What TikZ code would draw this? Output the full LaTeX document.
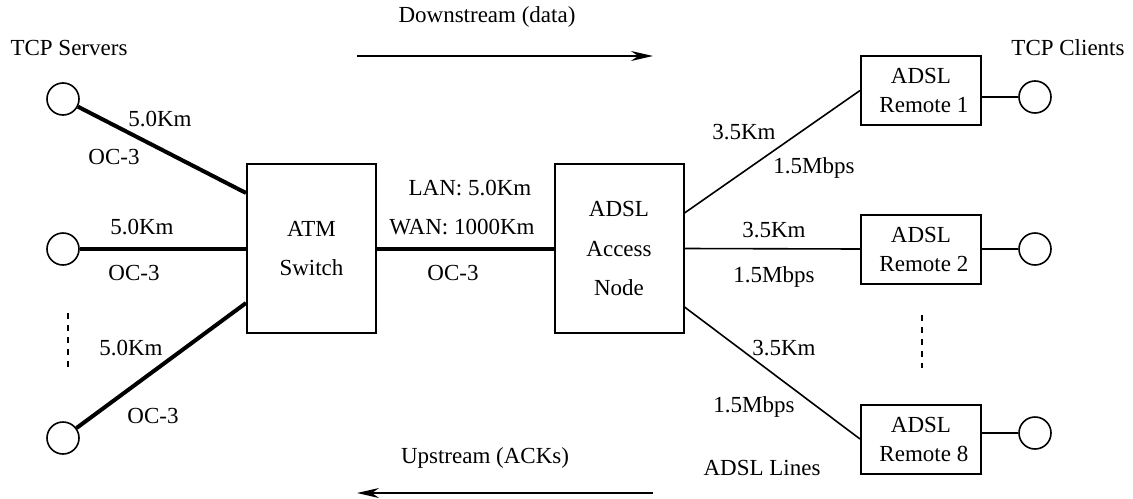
\documentclass[tikz,border=0pt]{standalone}
\usepackage{fontspec}
\setmainfont{Liberation Serif}
\usetikzlibrary{arrows.meta}
\begin{document}
\begin{tikzpicture}[x=0.5pt,y=-0.5pt,
  font=\fontsize{11.5}{13}\selectfont,
  lbl/.style={inner sep=0pt},
  box/.style={draw,line width=1pt,inner sep=0pt,align=center},
  bigbox/.style={box,minimum width=64.5pt,minimum height=84.5pt},
  rembox/.style={box,minimum width=60pt,minimum height=34.5pt,font=\fontsize{11.5}{14.5}\selectfont},
  host/.style={draw,circle,line width=0.8pt,minimum size=16pt,inner sep=0pt},
  thickline/.style={line width=2pt},
  thinline/.style={line width=0.8pt},
  flow/.style={line width=0.9pt,-{Stealth[length=11pt,width=5pt]}},
  dots/.style={line width=0.7pt,dash pattern=on 3pt off 3pt}]
\useasboundingbox (0,0) rectangle (1133,498);

% boxes
\node[bigbox,font=\fontsize{11.5}{19.5}\selectfont] (atm) at (311.5,248.5) {ATM\\Switch};
\node[bigbox,font=\fontsize{11.5}{19.75}\selectfont] (acc) at (619,248.5) {ADSL\\Access\\Node};
\node[rembox] (r1) at (921,90.5) {ADSL\\\ Remote 1};
\node[rembox] (r2) at (921,249) {ADSL\\\ Remote 2};
\node[rembox] (r8) at (921,439) {ADSL\\\ Remote 8};

% hosts
\node[host] (s1) at (63,99) {};
\node[host] (s2) at (63,249) {};
\node[host] (s3) at (63,438) {};
\node[host] (c1) at (1035,97) {};
\node[host] (c2) at (1035,249) {};
\node[host] (c8) at (1035,433) {};

% links
\draw[thickline] (s1) -- ([yshift=27.75pt]atm.west);
\draw[thickline] (s2) -- (s2 -| atm.west);
\draw[thickline] (s3) -- ([yshift=-27.25pt]atm.west);
\draw[thickline] (atm.east) -- (acc.west);
\draw[thinline] ([yshift=17.75pt]acc.east) -- (r1.west);
\draw[thinline] (acc.east) -- (r2.west);
\draw[thinline] ([yshift=-29.25pt]acc.east) -- (r8.west);
\draw[thinline] (c1) -- (c1 -| r1.east);
\draw[thinline] (c2) -- (c2 -| r2.east);
\draw[thinline] (c8) -- (c8 -| r8.east);

% continuation marks
\coordinate (d1a) at (68,313); \coordinate (d1b) at (68,368);
\coordinate (d2a) at (922,315); \coordinate (d2b) at (922,368);
\draw[dots] (d1a) -- (d1b);
\draw[dots] (d2a) -- (d2b);

% flow arrows
\coordinate (dsa) at (357,56); \coordinate (dsb) at (653,56);
\coordinate (usa) at (653,493); \coordinate (usb) at (357,493);
\draw[flow] (dsa) -- (dsb);
\draw[flow] (usa) -- (usb);

% labels
\node[lbl] (tserv) at (69,48) {TCP Servers};
\node[lbl] (tcli) at (1068,48) {TCP Clients};
\node[lbl] (tdown) at (487,17) {Downstream (data)};
\node[lbl] (tup) at (485,458) {Upstream (ACKs)};
\node[lbl] (tlines) at (762,468) {ADSL Lines};

\node[lbl] (l1) at (160,119) {5.0Km};
\node[lbl] (o1) at (114,157) {OC-3};
\node[lbl] (l2) at (142,227) {5.0Km};
\node[lbl] (o2) at (134,273) {OC-3};
\node[lbl] (l3) at (131,348) {5.0Km};
\node[lbl] (o3) at (153,416) {OC-3};

\node[lbl] (lan) at (470,188) {LAN: 5.0Km};
\node[lbl] (wan) at (462,227) {WAN: 1000Km};
\node[lbl] (o4) at (453,273) {OC-3};

\node[lbl] (k1) at (744,132) {3.5Km};
\node[lbl] (m1) at (814,168) {1.5Mbps};
\node[lbl] (k2) at (774,230) {3.5Km};
\node[lbl] (m2) at (774,277) {1.5Mbps};
\node[lbl] (k3) at (784,348) {3.5Km};
\node[lbl] (m3) at (754,407) {1.5Mbps};
\end{tikzpicture}
\end{document}
